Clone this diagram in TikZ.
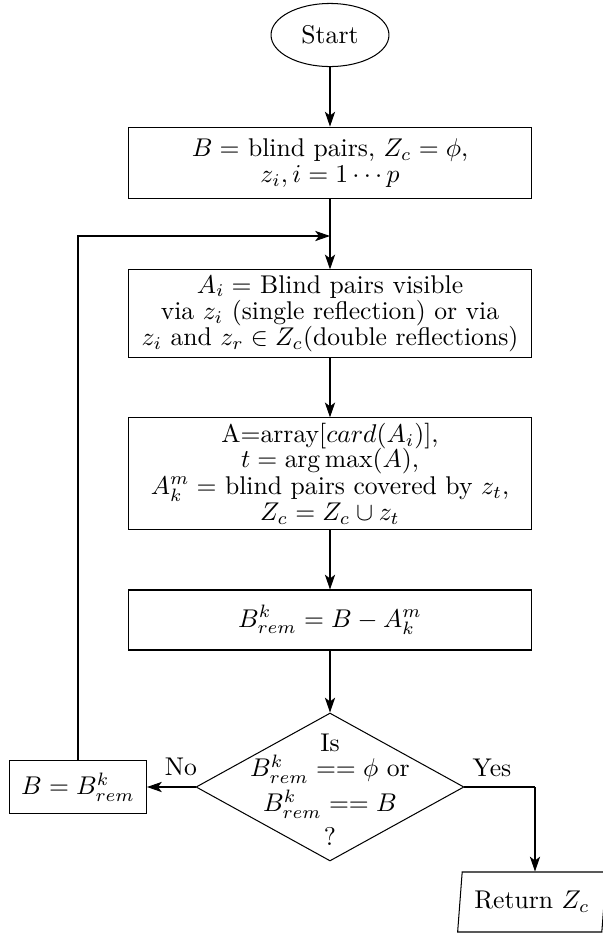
\documentclass[tikz,border=0pt]{standalone}
\usetikzlibrary{shapes.geometric,arrows.meta}
\begin{document}
\begin{tikzpicture}[x=0.39pt,y=-0.39pt,
  line width=0.4pt,
  arr/.style={-{Stealth[length=5.8pt,width=4pt,inset=1.5pt]}},
  procbox/.style={draw,rectangle,align=center,inner sep=2pt,minimum width=157pt},
  startell/.style={draw,ellipse,minimum width=46pt,minimum height=24.6pt,inner sep=0pt},
  decision/.style={draw,diamond,minimum width=104.5pt,minimum height=57.7pt,inner sep=0pt},
  iobox/.style={draw,trapezium,trapezium left angle=78,trapezium right angle=102,trapezium stretches body,minimum width=58pt,minimum height=23.4pt,inner sep=0pt},
  lbl/.style={inner sep=1pt}]
\useasboundingbox (0,0) rectangle (603,935);
\node[startell] (start) at (330,35) {Start};
\node[procbox,minimum height=28pt] (b1) at (330,163) {$B=$ blind pairs, $Z_c=\phi$,\\[-2pt] $z_i, i=1\cdots p$};
\node[procbox,minimum height=34pt] (b2) at (330,313.5) {$A_i=$ Blind pairs visible\\[-1.8pt] via $z_i$ (single reflection) or via\\[-1.8pt] $z_i$ and $z_r\in Z_c$(double reflections)};
\node[procbox,minimum height=43.3pt] (b3) at (330,473.5) {A=array[$card(A_i)$],\\[-2.2pt] $t=\arg\max(A)$,\\[-1.5pt] $A_k^m=$ blind pairs covered by $z_t$,\\[-1.9pt] $Z_c=Z_c\cup z_t$};
\node[procbox,minimum height=23.4pt] (b4) at (330,620) {$B_{rem}^k=B-A_k^m$};
\node[decision] (d) at (330,787) {};
\node[align=center,inner sep=0pt] (dt) at (330,790) {Is\\[-2.2pt] $B_{rem}^k==\phi$ or\\[1.7pt] $B_{rem}^k==B$\\[1.3pt] ?};
\node[draw,rectangle,minimum width=53.4pt,minimum height=20.3pt,inner sep=0pt] (bb) at (78,787) {$B=B_{rem}^k$};
\node[iobox] (ret) at (532,902) {Return $Z_c$};
\coordinate (j) at (330,236);
\coordinate (yc) at (535,787);
\node[lbl] (no) at (181,767) {No};
\node[lbl] (yes) at (492,768) {Yes};
\draw[arr] (start) -- (b1);
\draw[arr] (b1) -- (b2);
\draw[arr] (b2) -- (b3);
\draw[arr] (b3) -- (b4);
\draw[arr] (b4) -- (d);
\draw[arr] (d.west) -- (bb.east);
\draw[arr] (bb.north) |- (j);
\draw (d.east) -- (yc);
\draw[arr] (yc) -- (yc |- ret.north);
\end{tikzpicture}
\end{document}
